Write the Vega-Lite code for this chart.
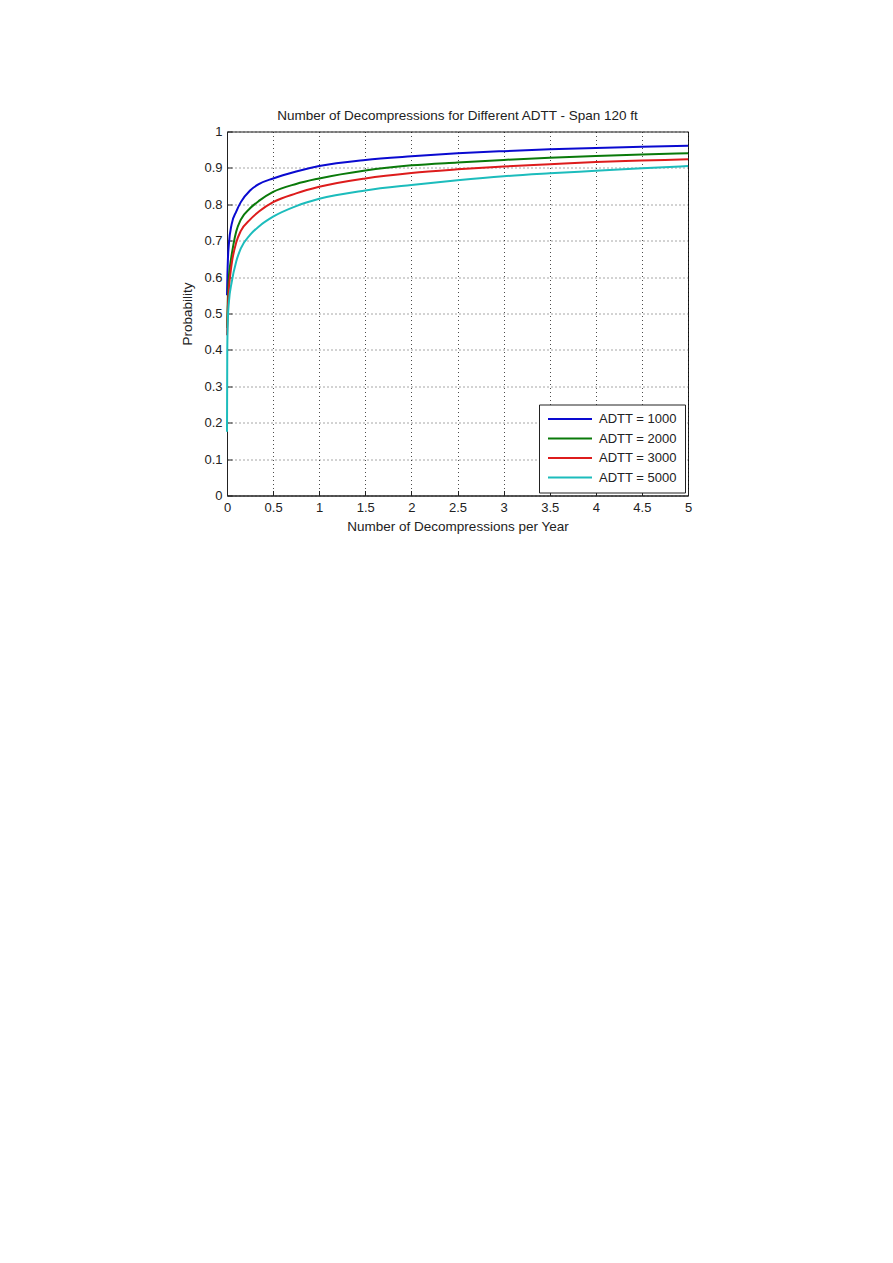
{
  "$schema": "https://vega.github.io/schema/vega-lite/v6.json",
  "autosize": "none",
  "width": 461,
  "height": 364,
  "padding": {"left": 227, "top": 131.5, "right": 205, "bottom": 767.5},
  "background": "white",
  "config": {
    "font": "Liberation Sans",
    "view": {"stroke": "#222", "strokeWidth": 1},
    "axis": {
      "labelFont": "Liberation Sans",
      "titleFont": "Liberation Sans",
      "labelFontSize": 13,
      "titleFontSize": 13.5,
      "titleFontWeight": "normal",
      "labelColor": "#222",
      "titleColor": "#222",
      "domainColor": "#222",
      "tickColor": "#222",
      "grid": true,
      "gridColor": "#000",
      "gridDash": [1, 3],
      "gridOpacity": 0.7,
      "tickSize": -5
    }
  },
  "title": {
    "text": "Number of Decompressions for Different ADTT - Span 120 ft",
    "font": "Liberation Sans",
    "fontSize": 13.5,
    "fontWeight": "normal",
    "color": "#222",
    "offset": 3
  },
  "data": {
    "values": [
      {"x": 0, "p": 0.55, "s": "ADTT = 1000"},
      {"x": 0.005, "p": 0.61, "s": "ADTT = 1000"},
      {"x": 0.01, "p": 0.65, "s": "ADTT = 1000"},
      {"x": 0.02, "p": 0.69, "s": "ADTT = 1000"},
      {"x": 0.05, "p": 0.745, "s": "ADTT = 1000"},
      {"x": 0.1, "p": 0.78, "s": "ADTT = 1000"},
      {"x": 0.15, "p": 0.806, "s": "ADTT = 1000"},
      {"x": 0.25, "p": 0.838, "s": "ADTT = 1000"},
      {"x": 0.35, "p": 0.856, "s": "ADTT = 1000"},
      {"x": 0.5, "p": 0.871, "s": "ADTT = 1000"},
      {"x": 0.75, "p": 0.89, "s": "ADTT = 1000"},
      {"x": 1, "p": 0.905, "s": "ADTT = 1000"},
      {"x": 1.5, "p": 0.922, "s": "ADTT = 1000"},
      {"x": 2, "p": 0.932, "s": "ADTT = 1000"},
      {"x": 2.5, "p": 0.94, "s": "ADTT = 1000"},
      {"x": 3, "p": 0.946, "s": "ADTT = 1000"},
      {"x": 3.5, "p": 0.951, "s": "ADTT = 1000"},
      {"x": 4, "p": 0.955, "s": "ADTT = 1000"},
      {"x": 4.5, "p": 0.958, "s": "ADTT = 1000"},
      {"x": 5, "p": 0.961, "s": "ADTT = 1000"},

      {"x": 0, "p": 0.46, "s": "ADTT = 2000"},
      {"x": 0.01, "p": 0.55, "s": "ADTT = 2000"},
      {"x": 0.02, "p": 0.6, "s": "ADTT = 2000"},
      {"x": 0.035, "p": 0.635, "s": "ADTT = 2000"},
      {"x": 0.05, "p": 0.66, "s": "ADTT = 2000"},
      {"x": 0.07, "p": 0.69, "s": "ADTT = 2000"},
      {"x": 0.1, "p": 0.725, "s": "ADTT = 2000"},
      {"x": 0.15, "p": 0.758, "s": "ADTT = 2000"},
      {"x": 0.25, "p": 0.789, "s": "ADTT = 2000"},
      {"x": 0.35, "p": 0.81, "s": "ADTT = 2000"},
      {"x": 0.5, "p": 0.834, "s": "ADTT = 2000"},
      {"x": 0.75, "p": 0.856, "s": "ADTT = 2000"},
      {"x": 1, "p": 0.871, "s": "ADTT = 2000"},
      {"x": 1.5, "p": 0.893, "s": "ADTT = 2000"},
      {"x": 2, "p": 0.907, "s": "ADTT = 2000"},
      {"x": 2.5, "p": 0.915, "s": "ADTT = 2000"},
      {"x": 3, "p": 0.922, "s": "ADTT = 2000"},
      {"x": 3.5, "p": 0.928, "s": "ADTT = 2000"},
      {"x": 4, "p": 0.933, "s": "ADTT = 2000"},
      {"x": 4.5, "p": 0.937, "s": "ADTT = 2000"},
      {"x": 5, "p": 0.94, "s": "ADTT = 2000"},

      {"x": 0, "p": 0.44, "s": "ADTT = 3000"},
      {"x": 0.01, "p": 0.52, "s": "ADTT = 3000"},
      {"x": 0.02, "p": 0.565, "s": "ADTT = 3000"},
      {"x": 0.05, "p": 0.635, "s": "ADTT = 3000"},
      {"x": 0.1, "p": 0.695, "s": "ADTT = 3000"},
      {"x": 0.15, "p": 0.727, "s": "ADTT = 3000"},
      {"x": 0.25, "p": 0.758, "s": "ADTT = 3000"},
      {"x": 0.35, "p": 0.781, "s": "ADTT = 3000"},
      {"x": 0.5, "p": 0.806, "s": "ADTT = 3000"},
      {"x": 0.75, "p": 0.83, "s": "ADTT = 3000"},
      {"x": 1, "p": 0.848, "s": "ADTT = 3000"},
      {"x": 1.5, "p": 0.871, "s": "ADTT = 3000"},
      {"x": 2, "p": 0.886, "s": "ADTT = 3000"},
      {"x": 2.5, "p": 0.896, "s": "ADTT = 3000"},
      {"x": 3, "p": 0.904, "s": "ADTT = 3000"},
      {"x": 3.5, "p": 0.91, "s": "ADTT = 3000"},
      {"x": 4, "p": 0.916, "s": "ADTT = 3000"},
      {"x": 4.5, "p": 0.92, "s": "ADTT = 3000"},
      {"x": 5, "p": 0.924, "s": "ADTT = 3000"},

      {"x": 0, "p": 0.175, "s": "ADTT = 5000"},
      {"x": 0.003, "p": 0.4, "s": "ADTT = 5000"},
      {"x": 0.01, "p": 0.49, "s": "ADTT = 5000"},
      {"x": 0.02, "p": 0.53, "s": "ADTT = 5000"},
      {"x": 0.05, "p": 0.585, "s": "ADTT = 5000"},
      {"x": 0.1, "p": 0.643, "s": "ADTT = 5000"},
      {"x": 0.15, "p": 0.679, "s": "ADTT = 5000"},
      {"x": 0.25, "p": 0.716, "s": "ADTT = 5000"},
      {"x": 0.35, "p": 0.74, "s": "ADTT = 5000"},
      {"x": 0.5, "p": 0.766, "s": "ADTT = 5000"},
      {"x": 0.75, "p": 0.795, "s": "ADTT = 5000"},
      {"x": 1, "p": 0.815, "s": "ADTT = 5000"},
      {"x": 1.5, "p": 0.838, "s": "ADTT = 5000"},
      {"x": 2, "p": 0.853, "s": "ADTT = 5000"},
      {"x": 2.5, "p": 0.866, "s": "ADTT = 5000"},
      {"x": 3, "p": 0.877, "s": "ADTT = 5000"},
      {"x": 3.5, "p": 0.885, "s": "ADTT = 5000"},
      {"x": 4, "p": 0.892, "s": "ADTT = 5000"},
      {"x": 4.5, "p": 0.899, "s": "ADTT = 5000"},
      {"x": 5, "p": 0.905, "s": "ADTT = 5000"}
    ]
  },
  "mark": {"type": "line", "strokeWidth": 2, "interpolate": "monotone"},
  "encoding": {
    "x": {
      "field": "x",
      "type": "quantitative",
      "scale": {"domain": [0, 5], "nice": false, "zero": false},
      "axis": {
        "title": "Number of Decompressions per Year",
        "values": [0, 0.5, 1, 1.5, 2, 2.5, 3, 3.5, 4, 4.5, 5],
        "format": "~g",
        "labelPadding": 11,
        "titlePadding": 5,
        "labelFlush": false
      }
    },
    "y": {
      "field": "p",
      "type": "quantitative",
      "scale": {"domain": [0, 1], "nice": false},
      "axis": {
        "title": "Probability",
        "values": [0, 0.1, 0.2, 0.3, 0.4, 0.5, 0.6, 0.7, 0.8, 0.9, 1],
        "format": "~g",
        "labelPadding": 10,
        "titlePadding": 9,
        "labelFlush": false
      }
    },
    "color": {
      "field": "s",
      "type": "nominal",
      "scale": {
        "domain": ["ADTT = 1000", "ADTT = 2000", "ADTT = 3000", "ADTT = 5000"],
        "range": ["#0a0ad0", "#0a7a0a", "#dd1c1c", "#1cbcbc"]
      },
      "legend": {
        "title": null,
        "orient": "bottom-right",
        "offset": 3,
        "symbolType": "stroke",
        "symbolSize": 1936,
        "symbolStrokeWidth": 2,
        "clipHeight": 13,
        "labelFont": "Liberation Sans",
        "labelFontSize": 13,
        "labelColor": "#222",
        "labelOffset": 6,
        "rowPadding": 5.5,
        "padding": 8,
        "strokeColor": "#222",
        "fillColor": "white"
      }
    }
  }
}
